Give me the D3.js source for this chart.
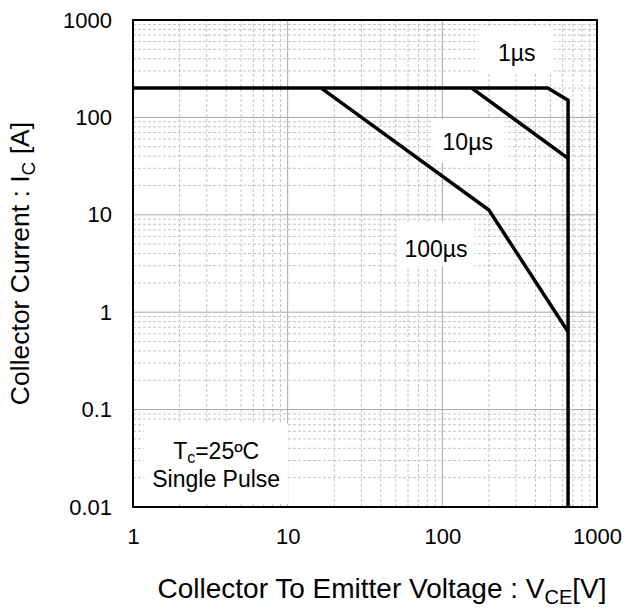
<!DOCTYPE html>
<html>
<head>
<meta charset="utf-8">
<script src="https://cdn.jsdelivr.net/npm/d3@7"></script>
<style>
  html, body { margin: 0; padding: 0; background: #fff; }
  svg { display: block; font-family: "Liberation Sans", Arial, sans-serif; }
</style>
</head>
<body>
<svg id="chart" width="627" height="612"></svg>
<script>
// Safe operating area: collector current vs. collector-emitter voltage (log-log)
const vceTicks = [1, 10, 100, 1000];
const icTicks = [0.01, 0.1, 1, 10, 100, 1000];

// Pulse-width boundaries: [V_CE, I_C] pairs
const pulse1us   = [[1, 200], [480, 200], [650, 150], [650, 0.01]];
const pulse10us  = [[155, 200], [650, 38]];
const pulse100us = [[16.5, 200], [200, 11.2], [650, 0.63]];

// Curve labels: text and anchor point [V_CE, I_C]
const curveLabels = ["1µs", "10µs", "100µs"];
const curveLabelAt = [[303, 458], [146, 56], [91, 4.5]];
// Test-condition note
const noteLines = [
  { main: "T", sub: "c", rest: "=25ºC" },
  { main: "Single Pulse" }
];
const noteAt = [[3.45, 0.038], [3.45, 0.0195]];

const svg = d3.select("#chart");
const margin = { left: 133, right: 30, top: 20, bottom: 105 };
const W = 627, H = 612;

const x = d3.scaleLog().domain([1, 1000]).range([margin.left, W - margin.right]);
const y = d3.scaleLog().domain([0.01, 1000]).range([H - margin.bottom, margin.top]);

// Grid: minor lines (2..9 in each decade) dashed, decade lines solid
function minorValues(domain) {
  const out = [];
  for (let d = Math.log10(domain[0]); d < Math.log10(domain[1]); d++) {
    for (let k = 2; k <= 9; k++) out.push(k * Math.pow(10, d));
  }
  return out;
}
const grid = svg.append("g");
grid.selectAll(".vmin").data(minorValues(x.domain())).join("line")
  .attr("x1", d => x(d)).attr("x2", d => x(d))
  .attr("y1", y.range()[0]).attr("y2", y.range()[1])
  .attr("stroke", "#c4c4c4").attr("stroke-width", 1).attr("stroke-dasharray", "3,2");
grid.selectAll(".hmin").data(minorValues(y.domain())).join("line")
  .attr("y1", d => y(d)).attr("y2", d => y(d))
  .attr("x1", x.range()[0]).attr("x2", x.range()[1])
  .attr("stroke", "#c4c4c4").attr("stroke-width", 1).attr("stroke-dasharray", "3,2");
grid.selectAll(".vmaj").data(vceTicks.slice(1, -1)).join("line")
  .attr("x1", d => x(d)).attr("x2", d => x(d))
  .attr("y1", y.range()[0]).attr("y2", y.range()[1])
  .attr("stroke", "#a8a8a8").attr("stroke-width", 1);
grid.selectAll(".hmaj").data(icTicks.slice(1, -1)).join("line")
  .attr("y1", d => y(d)).attr("y2", d => y(d))
  .attr("x1", x.range()[0]).attr("x2", x.range()[1])
  .attr("stroke", "#a8a8a8").attr("stroke-width", 1);

// Curve labels on white boxes (padding: left, right, top, bottom)
const labelPad = [[19, 18, 14, 6], [11, 12, 10, 8], [7, 7, 14, 5]];
const labels = svg.append("g");
curveLabels.forEach((txt, k) => {
  const g = labels.append("g");
  const t = g.append("text")
    .attr("x", x(curveLabelAt[k][0])).attr("y", y(curveLabelAt[k][1]))
    .attr("text-anchor", "middle").attr("dominant-baseline", "central")
    .attr("font-size", 23).attr("fill", "#000").text(txt);
  const bb = t.node().getBBox();
  const p = labelPad[k];
  g.insert("rect", "text")
    .attr("x", bb.x - p[0]).attr("y", bb.y - p[2])
    .attr("width", bb.width + p[0] + p[1]).attr("height", bb.height + p[2] + p[3])
    .attr("fill", "#fff");
});

const note = labels.append("g");
noteLines.forEach((n, k) => {
  const t = note.append("text")
    .attr("x", x(noteAt[k][0])).attr("y", y(noteAt[k][1]))
    .attr("text-anchor", "middle").attr("dominant-baseline", "central")
    .attr("font-size", 23).attr("fill", "#000");
  t.append("tspan").text(n.main);
  if (n.sub) {
    t.append("tspan").attr("font-size", 16).attr("dy", 6).text(n.sub);
    t.append("tspan").attr("dy", -6).text(n.rest);
  }
});
{
  const bb = note.node().getBBox();
  note.insert("rect", "text")
    .attr("x", bb.x - 8).attr("y", bb.y - 14)
    .attr("width", bb.width + 16).attr("height", bb.height + 26)
    .attr("fill", "#fff");
}

// SOA boundaries
const line = d3.line().x(d => x(d[0])).y(d => y(d[1]));
[pulse1us, pulse10us, pulse100us].forEach(s => {
  svg.append("path").datum(s).attr("d", line)
    .attr("fill", "none").attr("stroke", "#000")
    .attr("stroke-width", 3.5).attr("stroke-linejoin", "miter");
});

// Frame
svg.append("rect")
  .attr("x", x.range()[0]).attr("y", y.range()[1])
  .attr("width", x.range()[1] - x.range()[0]).attr("height", y.range()[0] - y.range()[1])
  .attr("fill", "none").attr("stroke", "#000").attr("stroke-width", 2);

// Axes (tick labels only)
const fmt = d => String(d);
const xAxis = svg.append("g")
  .attr("transform", `translate(0,${y.range()[0]})`)
  .call(d3.axisBottom(x).tickValues(vceTicks).tickFormat(fmt).tickSize(0).tickPadding(21));
const yAxis = svg.append("g")
  .attr("transform", `translate(${x.range()[0]},0)`)
  .call(d3.axisLeft(y).tickValues(icTicks).tickFormat(fmt).tickSize(0).tickPadding(21));
[xAxis, yAxis].forEach(a => {
  a.select(".domain").remove();
  a.selectAll("text").attr("font-size", 22).attr("fill", "#000")
    .attr("font-family", "'Liberation Sans', Arial, sans-serif");
});

// Axis titles
const xt = svg.append("text")
  .attr("x", 382).attr("y", 598)
  .attr("text-anchor", "middle").attr("font-size", 28).attr("fill", "#000");
xt.append("tspan").text("Collector To Emitter Voltage : V");
xt.append("tspan").attr("font-size", 20).attr("dy", 6).text("CE");
xt.append("tspan").attr("dy", -6).text("[V]");

const yt = svg.append("text")
  .attr("transform", `translate(29,${(y.range()[0] + y.range()[1]) / 2}) rotate(-90)`)
  .attr("text-anchor", "middle").attr("font-size", 26.5).attr("fill", "#000");
yt.append("tspan").text("Collector Current : I");
yt.append("tspan").attr("font-size", 19).attr("dy", 6).text("C");
yt.append("tspan").attr("dy", -6).text(" [A]");
</script>
</body>
</html>
